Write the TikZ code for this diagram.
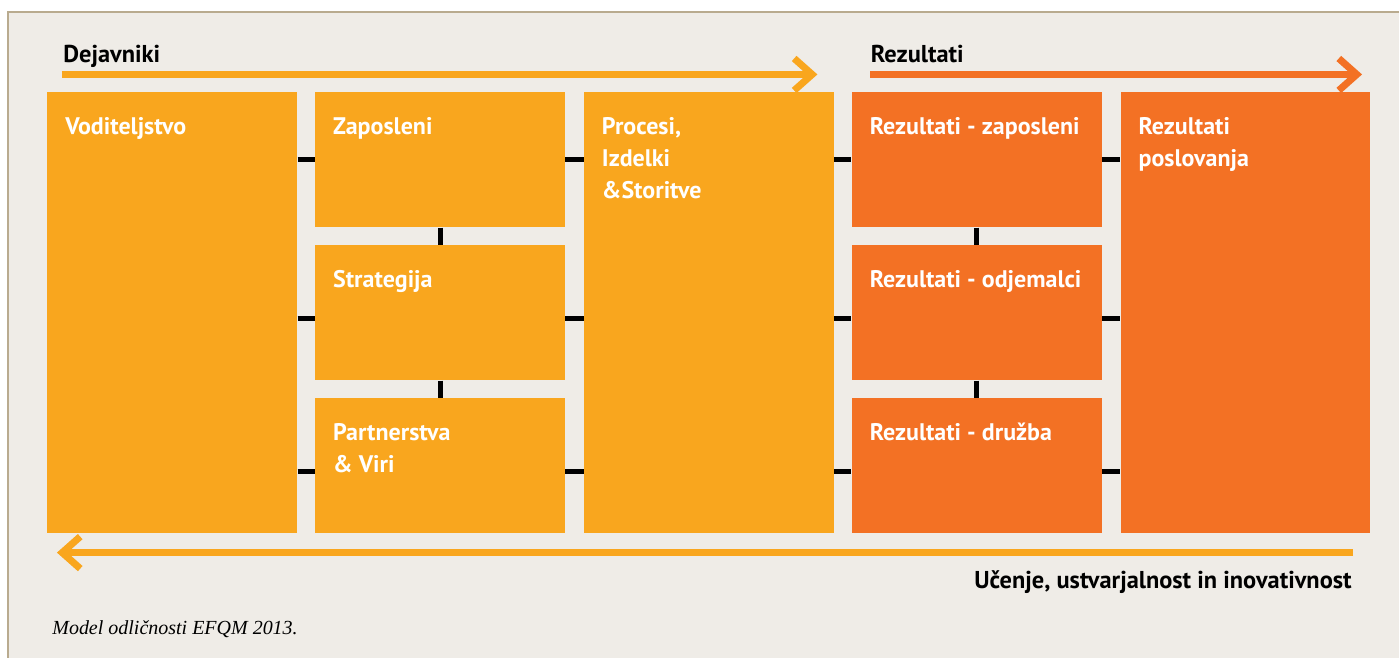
\documentclass[tikz,border=0pt]{standalone}
\usepackage{fontspec}
\setsansfont{PT Sans}
\newfontfamily\capfont{Liberation Serif}
\usetikzlibrary{arrows.meta}
\definecolor{efqmyellow}{HTML}{F9A61E}
\definecolor{efqmorange}{HTML}{F37124}
\definecolor{paper}{HTML}{EFECE7}
\definecolor{frameline}{HTML}{B9AB8F}
\tikzset{
  box/.style={anchor=north west, inner sep=0pt, minimum width=125pt, fill=efqmyellow},
  rbox/.style={box, fill=efqmorange},
  boxtext/.style={anchor=north west, inner sep=0pt, text=white, align=left,
    font=\sffamily\bfseries\fontsize{12}{16}\selectfont, xshift=9pt, yshift=-12.5pt},
  link/.style={line width=2.5pt},
  flow/.style={line width=3.5pt, -{Straight Barb[length=9pt,width=16pt]}},
  head/.style={font=\sffamily\bfseries\fontsize{12.2}{14}\selectfont, inner sep=0pt}
}
\begin{document}
\begin{tikzpicture}[x=0.5pt,y=-0.5pt]
\fill[white] (0,0) rectangle (1400,658);
\fill[paper] (8,12) rectangle (1400,658);
\draw[frameline, line width=1pt] (8,658) -- (8,12) -- (1400,12);
% Dejavniki
\node[box, minimum height=220.5pt] (vod) at (47,92) {};
\node[box, minimum height=67.5pt] (zap) at (315,92) {};
\node[box, minimum height=67.5pt] (str) at (315,245) {};
\node[box, minimum height=67.5pt] (par) at (315,398) {};
\node[box, minimum height=220.5pt] (pro) at (584,92) {};
% Rezultati
\node[rbox, minimum height=67.5pt] (rzap) at (852,92) {};
\node[rbox, minimum height=67.5pt] (rodj) at (852,245) {};
\node[rbox, minimum height=67.5pt] (rdru) at (852,398) {};
\node[rbox, minimum height=220.5pt] (rpos) at (1121,92) {};
\node[boxtext] (tvod) at (vod.north west) {Voditeljstvo};
\node[boxtext] (tzap) at (zap.north west) {Zaposleni};
\node[boxtext] (tstr) at (str.north west) {Strategija};
\node[boxtext] (tpar) at (par.north west) {Partnerstva\\\& Viri};
\node[boxtext] (tpro) at (pro.north west) {Procesi,\\Izdelki\\\&Storitve};
\node[boxtext] (trzap) at (rzap.north west) {Rezultati - zaposleni};
\node[boxtext] (trodj) at (rodj.north west) {Rezultati - odjemalci};
\node[boxtext] (trdru) at (rdru.north west) {Rezultati - družba};
\node[boxtext] (trpos) at (rpos.north west) {Rezultati\\poslovanja};
% povezave
\draw[link] (vod.east |- zap.west) -- (zap.west);
\draw[link] (zap.east) -- (zap.east -| pro.west);
\draw[link] ([yshift=-3pt]vod.east |- str.west) -- ([yshift=-3pt]str.west);
\draw[link] ([yshift=-3pt]str.east) -- ([yshift=-3pt]str.east -| pro.west);
\draw[link] ([yshift=-3pt]vod.east |- par.west) -- ([yshift=-3pt]par.west);
\draw[link] ([yshift=-3pt]par.east) -- ([yshift=-3pt]par.east -| pro.west);
\draw[link] (zap.south) -- (str.north);
\draw[link] (str.south) -- (par.north);
\draw[link] (pro.east |- rzap.west) -- (rzap.west);
\draw[link] (rzap.east) -- (rzap.east -| rpos.west);
\draw[link] ([yshift=-3pt]pro.east |- rodj.west) -- ([yshift=-3pt]rodj.west);
\draw[link] ([yshift=-3pt]rodj.east) -- ([yshift=-3pt]rodj.east -| rpos.west);
\draw[link] ([yshift=-3pt]pro.east |- rdru.west) -- ([yshift=-3pt]rdru.west);
\draw[link] ([yshift=-3pt]rdru.east) -- ([yshift=-3pt]rdru.east -| rpos.west);
\draw[link] (rzap.south) -- (rodj.north);
\draw[link] (rodj.south) -- (rdru.north);
% puscice
\coordinate (dejs) at (62,74.5);
\coordinate (deje) at (818,74.5);
\coordinate (rezs) at (871,74.5);
\coordinate (reze) at (1363,74.5);
\coordinate (uces) at (1354,553);
\coordinate (ucee) at (57,553);
\draw[flow, efqmyellow] (dejs) -- (deje);
\draw[flow, efqmorange] (rezs) -- (reze);
\draw[flow, efqmyellow] (uces) -- (ucee);
\node[head, anchor=base west] (dej) at (63,63) {Dejavniki};
\node[head, anchor=base west] (rez) at (871,63) {Rezultati};
\node[head, anchor=base east] (uce) at (1353,589) {Učenje, ustvarjalnost in inovativnost};
\node[anchor=base west, inner sep=0pt, font=\capfont\itshape\fontsize{10}{12}\selectfont] (cap) at (52,635) {Model odličnosti EFQM 2013.};
\end{tikzpicture}
\end{document}
